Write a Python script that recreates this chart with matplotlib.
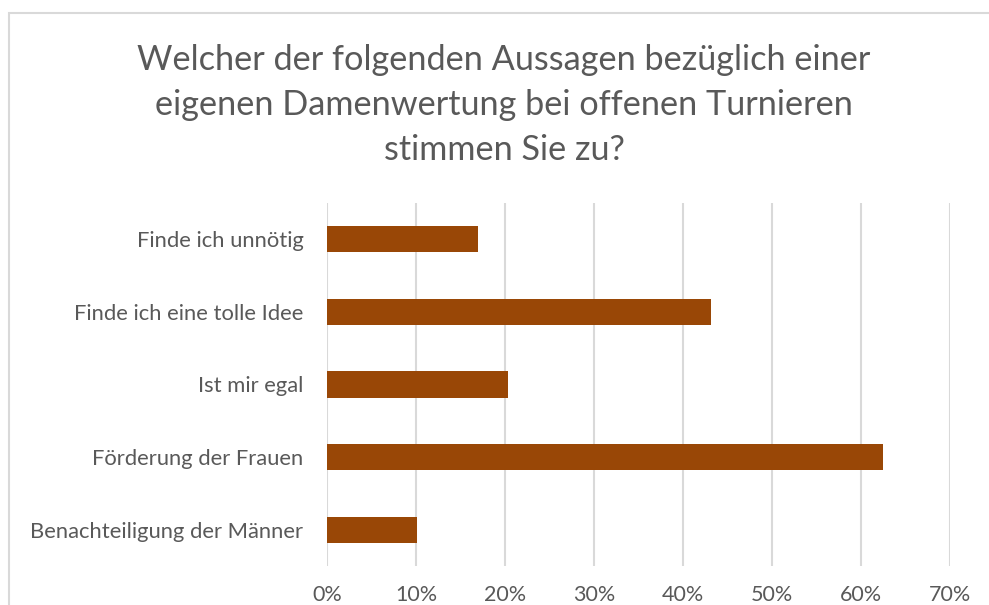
import matplotlib.pyplot as plt
from matplotlib.patches import Rectangle
from matplotlib.ticker import FuncFormatter

categories = [
    "Finde ich unnötig",
    "Finde ich eine tolle Idee",
    "Ist mir egal",
    "Förderung der Frauen",
    "Benachteiligung der Männer",
]
shares = [0.170, 0.431, 0.203, 0.625, 0.101]
x_ticks = [0.0, 0.1, 0.2, 0.3, 0.4, 0.5, 0.6, 0.7]

title = ("Welcher der folgenden Aussagen bezüglich einer\n"
         "eigenen Damenwertung bei offenen Turnieren\n"
         "stimmen Sie zu?")

plt.rcParams["font.family"] = ["Lato", "DejaVu Sans"]
text_color = "#595959"
bar_color = "#994706"

W, H = 989, 605
fig = plt.figure(figsize=(W / 100, H / 100), dpi=100)

# chart frame (runs off the right and bottom edge)
fig.patches.append(Rectangle((9 / W, -0.1), 1.2, 1 - 13 / H + 0.1,
                             transform=fig.transFigure, fill=False,
                             edgecolor="#d9d9d9", linewidth=1.5))

ax = fig.add_axes([327 / W, 1 - 566 / H, (950 - 327) / W, (566 - 203) / H])
pos = list(range(len(categories)))
ax.barh(pos, shares, height=0.36, color=bar_color, zorder=3)
ax.set_ylim(len(categories) - 0.5, -0.5)
ax.set_xlim(0, 0.7)
ax.set_yticks(pos)
ax.set_yticklabels(categories, fontsize=15.8, color=text_color)
ax.set_xticks(x_ticks)
ax.xaxis.set_major_formatter(FuncFormatter(lambda v, _: f"{v * 100:.0f}%"))
ax.tick_params(axis="x", labelsize=15.5, labelcolor=text_color, length=0, pad=14)
ax.tick_params(axis="y", length=0, pad=17)
ax.grid(axis="x", color="#d9d9d9", linewidth=1.5, zorder=0)
for side in ax.spines.values():
    side.set_visible(False)

fig.text(504 / W, 1 - 105 / H, title, ha="center", va="center",
         fontsize=24.7, color=text_color, linespacing=1.5)

fig.savefig("out.png", dpi=100)
